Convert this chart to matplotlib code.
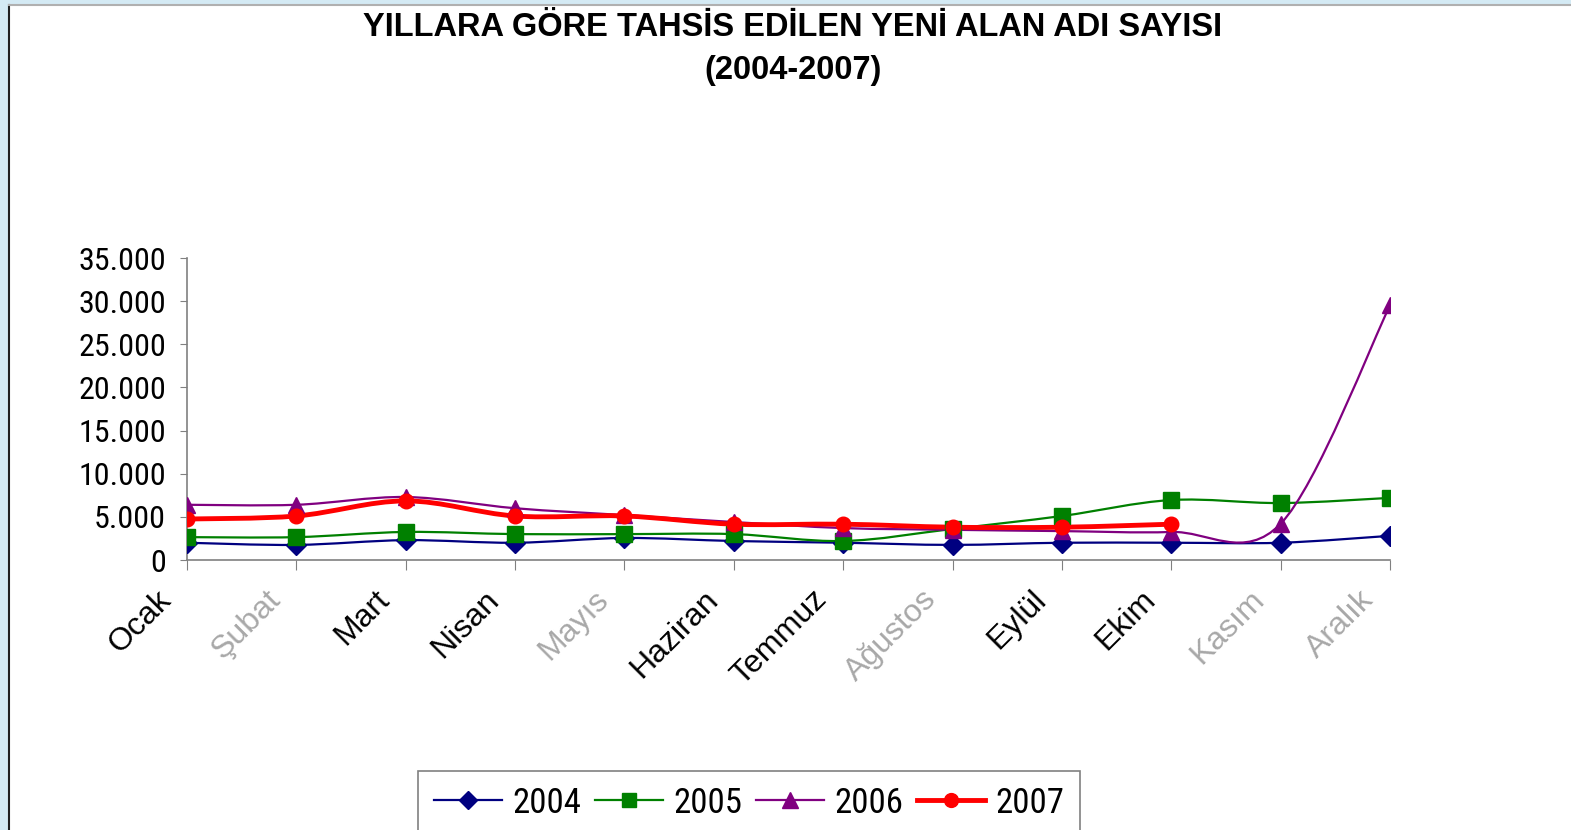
import numpy as np
import matplotlib
matplotlib.use('Agg')
import matplotlib.pyplot as plt
from matplotlib.path import Path
from matplotlib.patches import PathPatch, Rectangle
from matplotlib.lines import Line2D
from matplotlib.ticker import FuncFormatter
from matplotlib.transforms import ScaledTranslation

# Veriler (grafikten okunan tahmini değerler)
aylar = ['Ocak', 'Şubat', 'Mart', 'Nisan', 'Mayıs', 'Haziran', 'Temmuz',
         'Ağustos', 'Eylül', 'Ekim', 'Kasım', 'Aralık']
soluk_aylar = ['Şubat', 'Mayıs', 'Ağustos', 'Kasım', 'Aralık']

y2004 = [2000, 1750, 2300, 2000, 2550, 2200, 2000, 1750, 2000, 2000, 2000, 2800]
y2005 = [2650, 2650, 3250, 3000, 3000, 3000, 2200, 3600, 5100, 6950, 6600, 7200]
y2006 = [6400, 6400, 7300, 6000, 5200, 4400, 3700, 3500, 3350, 3250, 4200, 29500]
y2007 = [4750, 5100, 6850, 5100, 5100, 4150, 4150, 3800, 3800, 4150]

seriler = [
    ('2004', y2004, '#000080', 'D', 1.6, 10),
    ('2005', y2005, '#008000', 's', 1.6, 11),
    ('2006', y2006, '#800080', '^', 1.6, 12),
    ('2007', y2007, '#ff0000', 'o', 3.5, 10.5),
]

dar_font = ['Roboto Condensed', 'PT Sans Narrow', 'Archivo Narrow', 'DejaVu Sans']
font = ['Liberation Sans', 'DejaVu Sans']


def yumusak_yol(xs, ys):
    # Excel tarzı yumuşatılmış çizgi (Bezier)
    xs = np.asarray(xs, float)
    ys = np.asarray(ys, float)
    n = len(xs)
    verts = [(xs[0], ys[0])]
    codes = [Path.MOVETO]
    for i in range(n - 1):
        p0 = (xs[max(i - 1, 0)], ys[max(i - 1, 0)])
        p1 = (xs[i], ys[i])
        p2 = (xs[i + 1], ys[i + 1])
        p3 = (xs[min(i + 2, n - 1)], ys[min(i + 2, n - 1)])
        c1 = (p1[0] + (p2[0] - p0[0]) / 6, p1[1] + (p2[1] - p0[1]) / 6)
        c2 = (p2[0] - (p3[0] - p1[0]) / 6, p2[1] - (p3[1] - p1[1]) / 6)
        verts += [c1, c2, p2]
        codes += [Path.CURVE4] * 3
    return Path(verts, codes)


fig = plt.figure(figsize=(15.71, 8.30), dpi=100)

# Çerçeve ve kenar şeridi
fig.patches.append(Rectangle((0, 0), 8 / 1571, 1, transform=fig.transFigure,
                             color='#d4eaf4', zorder=0))
fig.patches.append(Rectangle((0, 1 - 4 / 830), 1, 4 / 830, transform=fig.transFigure,
                             color='#d4eaf4', zorder=0))
fig.lines.append(Line2D([9 / 1571, 9 / 1571], [0, 1 - 5 / 830], transform=fig.transFigure,
                        color='#202020', linewidth=1.5))
fig.lines.append(Line2D([9 / 1571, 1], [1 - 5 / 830, 1 - 5 / 830], transform=fig.transFigure,
                        color='#b0b0b0', linewidth=1.5))

ax = fig.add_axes([187 / 1571, 1 - 560 / 830, (1390 - 187) / 1571, (560 - 258) / 830])

x = np.arange(len(aylar))
for ad, vals, renk, mk, lw, ms in seriler:
    xs = x[:len(vals)]
    ax.add_patch(PathPatch(yumusak_yol(xs, vals), facecolor='none', edgecolor=renk,
                           linewidth=lw, zorder=2))
    ax.plot(xs, vals, linestyle='none', marker=mk, color=renk, markersize=ms, zorder=3)

ax.set_xlim(0, len(aylar) - 1)
ax.set_ylim(0, 35000)
ax.set_yticks(range(0, 35001, 5000))
ax.yaxis.set_major_formatter(FuncFormatter(lambda v, p: f'{int(v):,}'.replace(',', '.')))
ax.set_xticks(x)
ax.set_xticklabels(aylar, rotation=45, ha='right', va='top', rotation_mode='anchor')

for s in ['top', 'right']:
    ax.spines[s].set_visible(False)
for s in ['left', 'bottom']:
    ax.spines[s].set_color('#808080')
    ax.spines[s].set_linewidth(1.2)
ax.tick_params(axis='y', direction='out', length=5, color='#808080', pad=10)
ax.tick_params(axis='x', direction='out', length=7, color='#808080', pad=12)

for lab in ax.get_yticklabels():
    lab.set_fontfamily(dar_font)
    lab.set_fontstretch('condensed')
    lab.set_fontsize(23)
kaydir = ScaledTranslation(-31 / 100, 2 / 100, fig.dpi_scale_trans)
for lab in ax.get_xticklabels():
    lab.set_fontfamily(font)
    lab.set_fontsize(23)
    lab.set_transform(lab.get_transform() + kaydir)
    if lab.get_text() in soluk_aylar:
        lab.set_color('#a8a8a8')

# Başlık
fig.text(793 / 1571, 1 - 27 / 830, 'YILLARA GÖRE TAHSİS EDİLEN YENİ ALAN ADI SAYISI',
         ha='center', va='center', fontsize=23.5, fontweight='bold', family=font)
fig.text(793 / 1571, 1 - 70 / 830, '(2004-2007)',
         ha='center', va='center', fontsize=23.5, fontweight='bold', family=font)

# Lejant
tutamaklar = [Line2D([], [], color=r, marker=m, linewidth=lw, markersize=ms * 0.95)
              for _, _, r, m, lw, ms in seriler]
leg = fig.legend(tutamaklar, [s[0] for s in seriler], loc='upper center',
                 bbox_to_anchor=(749 / 1571, 1 - 771 / 830), ncol=4, frameon=True,
                 fancybox=False, edgecolor='#606060', handlelength=1.95,
                 handletextpad=0.3, columnspacing=0.4, borderpad=0.45,
                 borderaxespad=0,
                 prop={'family': dar_font, 'size': 25, 'stretch': 'condensed'})
leg.get_frame().set_linewidth(1.2)

plt.savefig('out.png', dpi=100)
